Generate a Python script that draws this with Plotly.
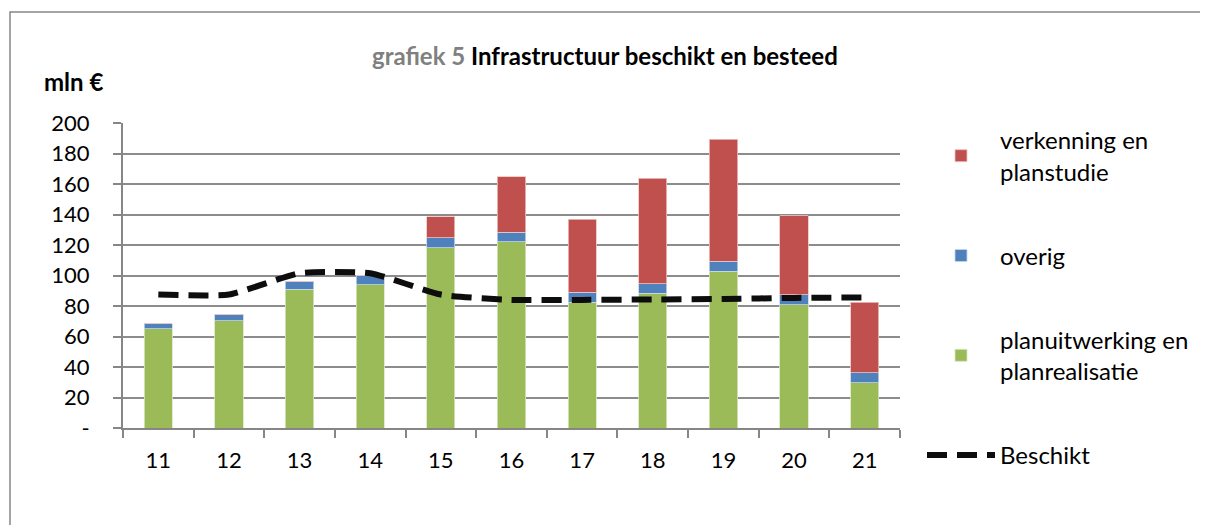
import plotly.graph_objects as go

years = ["11", "12", "13", "14", "15", "16", "17", "18", "19", "20", "21"]
planuitwerking = [65, 70.4, 91, 94, 118.3, 122, 82.4, 88.3, 102.7, 80.9, 29.7]
overig = [3.5, 4.1, 5, 6.3, 6.3, 6.5, 6.6, 6.3, 6.6, 6.5, 6.4]
verkenning = [0, 0, 0, 0, 13.8, 36.1, 48, 69.3, 80.2, 51.8, 46.3]
beschikt = [87.5, 87.5, 101.5, 101.5, 87.5, 84, 84, 84.3, 84.6, 85.3, 85.6]

y_ticks = [0, 20, 40, 60, 80, 100, 120, 140, 160, 180, 200]
y_ticktext = ["-"] + [str(v) for v in y_ticks[1:]]

FONT = "Lato, Calibri, sans-serif"

# page body has an 8px margin: figure coords = window coords - 8
L, T, W, H = 115, 115, 777, 305


def px(xw):
    return (xw - 8 - L) / W


def py(yw):
    return (T + H - (yw - 8)) / H


fig = go.Figure()
fig.add_trace(go.Bar(x=years, y=planuitwerking, name="planuitwerking en<br>planrealisatie",
                     marker=dict(color="#9BBB59", line=dict(color="#d9e6c3", width=0.8)),
                     legendgroup="c", legendrank=3))
fig.add_trace(go.Bar(x=years, y=overig, name="overig",
                     marker=dict(color="#4F81BD", line=dict(color="#c5d5ea", width=0.8)),
                     legendgroup="b", legendrank=2))
fig.add_trace(go.Bar(x=years, y=verkenning, name="verkenning en<br>planstudie",
                     marker=dict(color="#C0504D", line=dict(color="#ecc3c2", width=0.8)),
                     legendgroup="a", legendrank=1))
fig.add_trace(go.Scatter(x=years, y=beschikt, name="Beschikt", mode="lines",
                         line=dict(color="#0d0d0d", width=6, dash="20px,10px",
                                   shape="spline", smoothing=0.5),
                         legendgroup="d", legendrank=4))

fig.update_layout(
    width=1208, height=525,
    barmode="stack", bargap=0.6,
    paper_bgcolor="white", plot_bgcolor="white",
    margin=dict(l=L, r=1208 - L - W, t=T, b=525 - T - H, autoexpand=False),
    font=dict(family=FONT, size=22, color="#000000"),
    showlegend=True,
    legend=dict(x=px(922), xanchor="left", y=py(118), yanchor="top",
                traceorder="grouped", tracegroupgap=50, maxheight=420, itemwidth=68,
                font=dict(family=FONT, size=24, color="#000000"),
                bgcolor="rgba(0,0,0,0)"),
    xaxis=dict(type="category", showgrid=False, showline=True, linecolor="#868686", linewidth=2,
               ticks="outside", tickson="boundaries", ticklen=8, tickcolor="#868686", tickwidth=2,
               ticklabelstandoff=12,
               tickfont=dict(family=FONT, size=22, color="#000000")),
    yaxis=dict(range=[0, 200], tickvals=y_ticks, ticktext=y_ticktext,
               showgrid=True, gridcolor="#8c8c8c", gridwidth=1.5,
               showline=True, linecolor="#868686", linewidth=2,
               ticks="outside", ticklen=8, tickcolor="#868686", tickwidth=2,
               ticklabelstandoff=19,
               tickfont=dict(family=FONT, size=22, color="#000000"), zeroline=False),
    annotations=[
        dict(text="<b><span style='color:#808080'>grafiek 5</span> Infrastructuur beschikt en besteed</b>",
             xref="paper", yref="paper", x=px(605), y=py(55),
             xanchor="center", yanchor="middle", showarrow=False,
             font=dict(family=FONT, size=24, color="#000000")),
        dict(text="<b>mln €</b>", xref="paper", yref="paper",
             x=px(42), y=py(82), xanchor="left", yanchor="middle",
             showarrow=False, font=dict(family=FONT, size=24, color="#000000")),
    ],
    shapes=[
        dict(type="rect", xref="paper", yref="paper",
             x0=px(10), x1=px(1300), y0=py(620), y1=py(12),
             line=dict(color="#868686", width=1.5), fillcolor="rgba(0,0,0,0)", layer="below"),
    ],
)

fig.write_html("out.html")
